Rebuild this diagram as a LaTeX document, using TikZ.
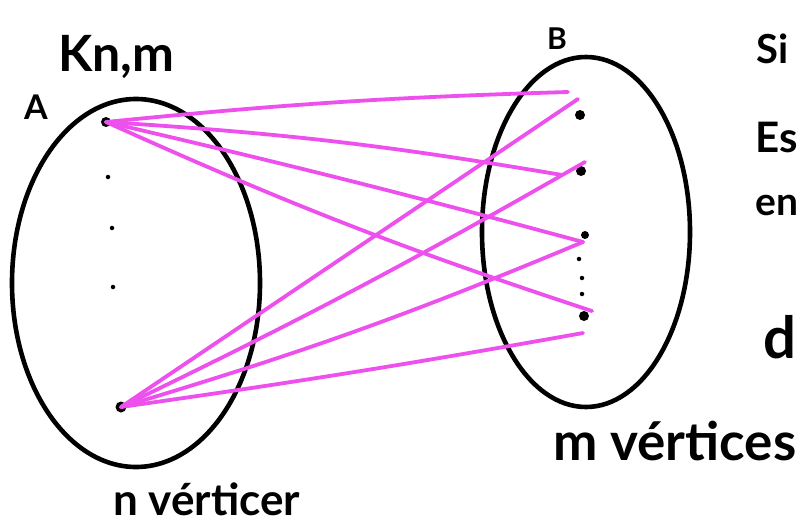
\documentclass[tikz,border=0pt]{standalone}
\usepackage{fontspec}
\setmainfont{Lato}
\definecolor{edgemag}{RGB}{238,80,238}
\begin{document}
\begin{tikzpicture}[x=1pt,y=-1pt,
  vtx/.style={circle,fill=black,inner sep=0pt,minimum size=10pt},
  smalldot/.style={circle,fill=black,inner sep=0pt,minimum size=4.5pt},
  edge/.style={draw=edgemag,line width=3.8pt,line cap=round},
  part/.style={draw=black,line width=4.6pt},
  lbl/.style={inner sep=0pt,anchor=base west,text=black,font=\bfseries}]
\useasboundingbox (0,0) rectangle (801,527);
\clip (0,0) rectangle (801,527);
\fill[white] (0,0) rectangle (801,527);
% parts
\draw[part] (136,283) ellipse [x radius=124pt, y radius=184pt];
\draw[part] (586,232) ellipse [x radius=104pt, y radius=175pt];
% vertices of A
\node[vtx] (a1) at (106,122) {};
\node[smalldot] (ad1) at (108,177) {};
\node[smalldot] (ad2) at (112,228) {};
\node[smalldot] (ad3) at (113,287) {};
\node[vtx,minimum size=11pt] (a2) at (121,407) {};
% vertices of B
\node[vtx] (b1) at (580,115) {};
\node[vtx] (b2) at (581,171) {};
\node[vtx,minimum size=8pt] (b3) at (585,235) {};
\node[smalldot] (bd1) at (579,259) {};
\node[smalldot] (bd2) at (582,278) {};
\node[smalldot] (bd3) at (582,294) {};
\node[vtx] (b4) at (584,316) {};
% edge ends
\coordinate (e1) at (568,92);
\coordinate (e2) at (562,175);
\coordinate (e3) at (583,242);
\coordinate (e4) at (592,311);
\coordinate (f1) at (578,99);
\coordinate (f2) at (585,162);
\coordinate (f3) at (583,242);
\coordinate (f4) at (583,333);
% edges
\draw[edge] (a1.center) to[bend left=2] (e1);
\draw[edge] (a1.center) to[bend left=3] (e2);
\draw[edge] (a1.center) to[bend left=1] (e3);
\draw[edge] (a1.center) to[bend right=3] (e4);
\draw[edge] (a2.center) to (f1);
\draw[edge] (a2.center) to[bend right=2] (f2);
\draw[edge] (a2.center) to[bend right=3] (f3);
\draw[edge] (a2.center) to[bend right=1] (f4);
% labels
\node[lbl,font=\bfseries\fontsize{50}{50}\selectfont] (title) at (58,72) {Kn,m};
\node[lbl,font=\bfseries\fontsize{34}{34}\selectfont] (la) at (24,120) {A};
\node[lbl,font=\bfseries\fontsize{30}{30}\selectfont] (lb) at (547,50) {B};
\node[lbl,font=\bfseries\fontsize{44}{44}\selectfont] (ln) at (113,515) {n vérticer};
\node[lbl,font=\bfseries\fontsize{53}{53}\selectfont] (lm) at (553,460) {m vértices};
\node[lbl,font=\bfseries\fontsize{40}{40}\selectfont] (t1) at (756,64) {Si};
\node[lbl,font=\bfseries\fontsize{42}{42}\selectfont] (t2) at (755,152) {Es};
\node[lbl,font=\bfseries\fontsize{39}{39}\selectfont] (t3) at (755,215) {en};
\node[lbl,font=\bfseries\fontsize{58}{58}\selectfont] (t4) at (763,358) {d};
\end{tikzpicture}
\end{document}
